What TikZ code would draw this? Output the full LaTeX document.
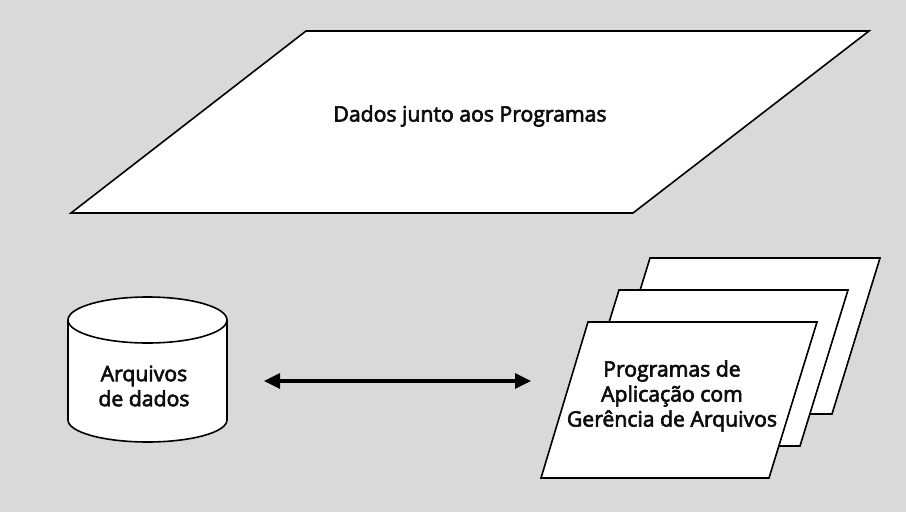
\documentclass[tikz,border=0pt]{standalone}
\usepackage{fontspec}
\setmainfont{Open Sans}[FakeBold=3]
\usetikzlibrary{arrows.meta}
\definecolor{bggray}{RGB}{217,217,217}
\tikzset{
  shapeline/.style={draw=black, fill=white, line width=1.6pt, line join=miter},
  lbl/.style={font=\fontsize{21.2}{25}\selectfont, align=center, inner sep=0pt, text=black!95},
  biarrow/.style={line width=3.3pt, {Triangle[length=16pt,width=15pt]}-{Triangle[length=16pt,width=15pt]}}
}
\begin{document}
\begin{tikzpicture}[x=1pt,y=-1pt]
\fill[bggray] (0,0) rectangle (906,512);
\useasboundingbox (0,0) rectangle (906,512);

% big parallelogram
\draw[shapeline] (306,31) -- (869,31) -- (633,213) -- (71,213) -- cycle;
\node[lbl] (dados) at (470,116) {Dados junto aos Programas};

% cylinder
\draw[shapeline] (68,320) -- (68,420) arc[start angle=180,end angle=0,x radius=79.5,y radius=22] -- (227,320);
\draw[shapeline] (147.5,320) ellipse [x radius=79.5, y radius=23];
\node[lbl] (arq) at (144,386) {Arquivos\\de dados};

% stacked parallelograms
\draw[shapeline] (650,258) -- (880,258) -- (832,414) -- (602,414) -- cycle;
\draw[shapeline] (619,290) -- (848,290) -- (800,446) -- (571,446) -- cycle;
\draw[shapeline] (588,322) -- (817,322) -- (769,478) -- (541,478) -- cycle;
\node[lbl] (prog) at (672,396) {Programas de\\Aplicação com\\Gerência de Arquivos};

% arrow
\coordinate (aL) at (264,381);
\coordinate (aR) at (531,381);
\draw[biarrow] (aL) -- (aR);
\end{tikzpicture}
\end{document}
